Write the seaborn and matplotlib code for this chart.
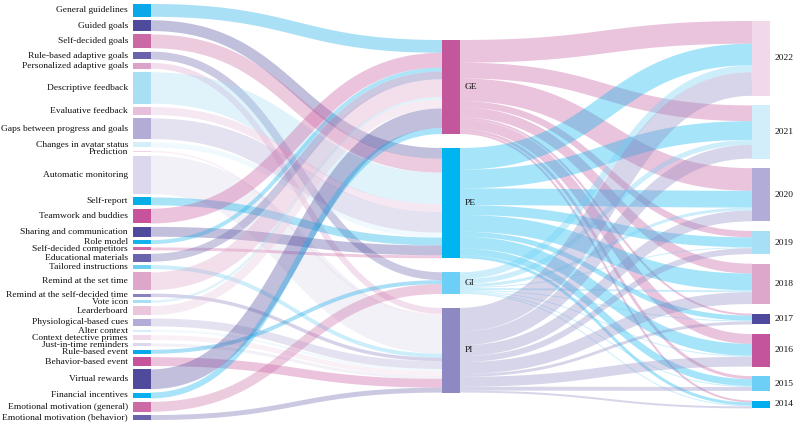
import numpy as np
import matplotlib
matplotlib.use("Agg")
import matplotlib.pyplot as plt
import seaborn as sns

# ---------------------------------------------------------------------------
# data: strategies -> category -> publication year

strategies = [
    "General guidelines", "Guided goals", "Self-decided goals", "Rule-based adaptive goals",
    "Personalized adaptive goals", "Descriptive feedback", "Evaluative feedback",
    "Gaps between progress and goals", "Changes in avatar status", "Prediction",
    "Automatic monitoring", "Self-report", "Teamwork and buddies", "Sharing and communication",
    "Role model", "Self-decided competitors", "Educational materials", "Tailored instructions",
    "Remind at the set time", "Remind at the self-decided time", "Vote icon", "Learderboard",
    "Physiological-based cues", "Alter context", "Context detective primes",
    "Just-in-time reminders", "Rule-based event", "Behavior-based event", "Virtual rewards",
    "Financial incentives", "Emotional motivation (general)", "Emotional motivation (behavior)",
]
strategy_sizes = [13, 11, 14, 8, 6, 32, 8, 21, 5, 1.5, 39, 8, 15, 10, 4, 3, 8, 4,
                  18, 3.5, 2.5, 9, 8, 2, 5, 3, 4, 9, 20, 6, 10, 5]
strategy_targets = ["GE", "PE", "PE", "GI", "PI", "PE", "PE", "PE", "PE", "PI",
                    "PI", "PE", "GE", "PE", "GE", "PE", "GE", "PI", "GE", "PI",
                    "GE", "GE", "PI", "PI", "PI", "PI", "GI", "PI", "GE", "GE", "GI", "PI"]
strategy_colors = [
    "#0aa8e8", "#4f4b9c", "#cc6aa6", "#6a62aa", "#dba3c9", "#a8dff5", "#e6bfda", "#b3acd6",
    "#d4effa", "#f2d2e4", "#dcd7ec", "#06aee9", "#c7549b", "#4f4a9c", "#13b2ec", "#cf6aa6",
    "#6a64ad", "#6ccff2", "#dda6ca", "#8b80c0", "#a8dff5", "#eac6dd", "#b3acd6", "#d4effa",
    "#f2d9e8", "#dcd7ec", "#0aa8e8", "#c7549b", "#4f4a9c", "#0ab0ee", "#cc6aa6", "#6a64ad",
]

categories = ["GE", "PE", "GI", "PI"]
category_colors = ["#c4569c", "#00b5ef", "#6dcff6", "#8f89c3"]

years = ["2022", "2021", "2020", "2019", "2018", "2017", "2016", "2015", "2014"]
year_colors = ["#f2d9ea", "#d3eefb", "#b2acd8", "#a7dff6", "#dca7cb",
               "#4d4a9d", "#c4549b", "#6dcff6", "#00aeef"]
ge_by_year = [23, 16, 23, 6.5, 10, 2, 10, 3, 2]
pe_by_year = [22, 19, 17, 10, 17, 5, 12, 7, 3]
gi_by_year = [7, 5, 3, 1, 2, 1, 1, 1, 1]
pi_by_year = [24, 14, 11, 6, 12, 3, 10, 4, 2]
by_year = [ge_by_year, pe_by_year, gi_by_year, pi_by_year]

# ---------------------------------------------------------------------------
# layout (pixel space, y down)

sns.set_style("white")
plt.rcParams["font.family"] = ["Liberation Serif", "DejaVu Serif"]

W, H, DPI = 800, 425, 100
col_x = [133, 442, 752]
node_w = 17.5
col_pad = [3.4, 14, 9.6]
col_top = [4, 40, 21]

total = sum(strategy_sizes)
k = (416 - (len(strategies) - 1) * col_pad[0]) / total

cat_sizes = [sum(s for s, t in zip(strategy_sizes, strategy_targets) if t == c) for c in categories]
year_sizes = [sum(row[j] for row in by_year) for j in range(len(years))]


def stack(sizes, top, pad):
    ys, y = [], top
    for s in sizes:
        ys.append(y)
        y += s * k + pad
    return ys


node_y = [stack(strategy_sizes, col_top[0], col_pad[0]),
          stack(cat_sizes, col_top[1], col_pad[1]),
          stack(year_sizes, col_top[2], col_pad[2])]

links = []
for i, (s, t) in enumerate(zip(strategy_sizes, strategy_targets)):
    links.append([0, i, 1, categories.index(t), s, strategy_colors[i]])
for ci, row in enumerate(by_year):
    for yi, v in enumerate(row):
        links.append([1, ci, 2, yi, v, category_colors[ci]])

# link offsets at each end (d3-sankey ordering)
src_off, tgt_off = {}, {}
for key_col in range(3):
    pass
out_cursor, in_cursor = {}, {}
for ln in sorted(links, key=lambda l: node_y[l[2]][l[3]]):
    key = (ln[0], ln[1])
    y0 = out_cursor.get(key, node_y[ln[0]][ln[1]])
    ln.append(y0 + ln[4] * k / 2)
    out_cursor[key] = y0 + ln[4] * k
for ln in sorted(links, key=lambda l: node_y[l[0]][l[1]]):
    key = (ln[2], ln[3])
    y0 = in_cursor.get(key, node_y[ln[2]][ln[3]])
    ln.append(y0 + ln[4] * k / 2)
    in_cursor[key] = y0 + ln[4] * k

fig = plt.figure(figsize=(W / DPI, H / DPI), dpi=DPI)
ax = fig.add_axes([0, 0, 1, 1])
ax.set_xlim(0, W)
ax.set_ylim(H, 0)
ax.axis("off")

t = np.linspace(0, 1, 80)
for sc, si, tc, ti, v, color, ys, yt in links:
    x0 = col_x[sc] + node_w
    x1 = col_x[tc]
    xm = (x0 + x1) / 2
    xs = (1 - t) ** 3 * x0 + 3 * (1 - t) ** 2 * t * xm + 3 * (1 - t) * t ** 2 * xm + t ** 3 * x1
    yy = ys + (yt - ys) * (3 * t ** 2 - 2 * t ** 3)
    ax.plot(xs, yy, color=color, alpha=0.35, lw=v * k * 72 / DPI,
            solid_capstyle="butt", zorder=1)

# nodes and labels
cols = [(strategies, strategy_sizes, strategy_colors),
        (categories, cat_sizes, category_colors),
        (years, year_sizes, year_colors)]
for c, (names, sizes, colors) in enumerate(cols):
    for name, s, col, y0 in zip(names, sizes, colors, node_y[c]):
        ax.add_patch(plt.Rectangle((col_x[c], y0), node_w, s * k, color=col, lw=0, zorder=2))
        if c == 0:
            ax.text(col_x[c] - 5, y0 + s * k / 2, name, ha="right", va="center",
                    fontsize=6.8, color="#111111")
        else:
            ax.text(col_x[c] + node_w + 5, y0 + s * k / 2, name, ha="left", va="center",
                    fontsize=6.8, color="#111111")

fig.savefig("out.png", dpi=DPI, facecolor="white")
